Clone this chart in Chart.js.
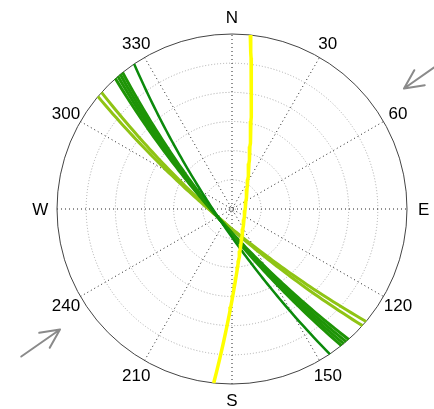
<!DOCTYPE html>
<html>
<head>
<meta charset="utf-8">
<script src="https://cdn.jsdelivr.net/npm/chart.js@4"></script>
<style>
body { margin: 0; background: #fff; }
#wrap { width: 434px; height: 409px; }
</style>
</head>
<body>
<div id="wrap"><canvas id="stereoChart"></canvas></div>
<script>
// planes: strike (right-hand rule) and dip, in degrees
const planeSets = ['set 1', 'set 2', 'set 2', 'set 2', 'set 2', 'set 3', 'set 3', 'set 4'];
const strikes = [146, 141.3, 140.3, 139.3, 138.2, 131.8, 130, 6];
const dips = [79.5, 79.5, 79.5, 79.5, 79.5, 80, 80, 81.5];

const azimuthLabels = ['N', '30', '60', 'E', '120', '150', 'S', '210', '240', 'W', '300', '330'];
const ringValues = [0.02, 1 / 6, 2 / 6, 3 / 6, 4 / 6, 5 / 6];
const arrowAzimuths = [55, 235];

const setColors = { 'set 1': '#0b8a0b', 'set 2': '#1e9406', 'set 3': '#8fc414', 'set 4': '#ffff00' };
const setWidths = { 'set 1': 2.5, 'set 2': 3, 'set 3': 3, 'set 4': 3.5 };

const rad = Math.PI / 180;

// equal-angle projection of a plane (lower hemisphere)
function greatCircle(strike, dip) {
    const s = strike * rad, d = dip * rad;
    const pts = [];
    for (let t = 0; t <= 180; t += 2) {
        const a = t * rad;
        const n = Math.cos(a) * Math.cos(s) + Math.sin(a) * Math.cos(d) * Math.cos(s + Math.PI / 2);
        const e = Math.cos(a) * Math.sin(s) + Math.sin(a) * Math.cos(d) * Math.sin(s + Math.PI / 2);
        const down = Math.sin(a) * Math.sin(d);
        const plunge = Math.asin(Math.min(1, down));
        const trend = Math.atan2(e, n);
        const r = Math.tan((Math.PI / 2 - plunge) / 2);
        pts.push({ x: r * Math.sin(trend), y: r * Math.cos(trend) });
    }
    return pts;
}

const datasets = strikes.map(function(s, i) {
    const set = planeSets[i];
    return {
        label: set,
        data: greatCircle(s, dips[i]),
        showLine: true,
        borderColor: setColors[set],
        borderWidth: setWidths[set],
        pointRadius: 0,
        tension: 0,
        clip: false,
        order: set === 'set 4' ? 0 : 1
    };
});

const polarGrid = {
    id: 'polarGrid',
    beforeDatasetsDraw(chart) {
        const ctx = chart.ctx;
        const xs = chart.scales.x, ys = chart.scales.y;
        const cx = xs.getPixelForValue(0), cy = ys.getPixelForValue(0);
        const R = xs.getPixelForValue(1) - cx;
        ctx.save();
        // rings
        ctx.strokeStyle = '#a8a8a8';
        ctx.lineWidth = 1;
        ctx.setLineDash([1, 2]);
        ringValues.forEach(function(v) {
            ctx.beginPath();
            ctx.arc(cx, cy, v * R, 0, Math.PI * 2);
            ctx.stroke();
        });
        // spokes
        ctx.strokeStyle = '#222';
        ctx.setLineDash([1, 3]);
        for (let a = 0; a < 180; a += 30) {
            const dx = Math.sin(a * rad) * R, dy = Math.cos(a * rad) * R;
            ctx.beginPath();
            ctx.moveTo(cx - dx, cy + dy);
            ctx.lineTo(cx + dx, cy - dy);
            ctx.stroke();
        }
        // outer circle
        ctx.setLineDash([]);
        ctx.strokeStyle = '#444';
        ctx.beginPath();
        ctx.arc(cx, cy, R, 0, Math.PI * 2);
        ctx.stroke();
        // labels
        ctx.fillStyle = '#000';
        ctx.font = '17px "Liberation Sans", Arial, sans-serif';
        ctx.textAlign = 'center';
        ctx.textBaseline = 'middle';
        azimuthLabels.forEach(function(txt, i) {
            const a = i * 30 * rad;
            const lr = R * 1.095;
            ctx.fillText(txt, cx + Math.sin(a) * lr, cy - Math.cos(a) * lr + 1);
        });
        ctx.restore();
    },
    afterDatasetsDraw(chart) {
        const ctx = chart.ctx;
        const xs = chart.scales.x, ys = chart.scales.y;
        const cx = xs.getPixelForValue(0), cy = ys.getPixelForValue(0);
        const R = xs.getPixelForValue(1) - cx;
        ctx.save();
        ctx.strokeStyle = '#8a8a8a';
        ctx.lineWidth = 2;
        ctx.lineCap = 'round';
        arrowAzimuths.forEach(function(az) {
            const a = az * rad;
            const ux = Math.sin(a), uy = -Math.cos(a);
            const tipX = cx + ux * R * 1.2, tipY = cy + uy * R * 1.2;
            const tailX = cx + ux * R * 1.47, tailY = cy + uy * R * 1.47;
            ctx.beginPath();
            ctx.moveTo(tailX, tailY);
            ctx.lineTo(tipX, tipY);
            const back = Math.atan2(tailY - tipY, tailX - tipX);
            [-0.45, 0.45].forEach(function(w) {
                ctx.moveTo(tipX, tipY);
                ctx.lineTo(tipX + Math.cos(back + w) * 21, tipY + Math.sin(back + w) * 21);
            });
            ctx.stroke();
        });
        ctx.restore();
    }
};

new Chart(document.getElementById('stereoChart').getContext('2d'), {
    type: 'scatter',
    data: { datasets: datasets },
    options: {
        responsive: true,
        maintainAspectRatio: false,
        animation: false,
        layout: { padding: { left: 57, right: 27, top: 34, bottom: 25 } },
        scales: {
            x: { type: 'linear', min: -1, max: 1, display: false },
            y: { type: 'linear', min: -1, max: 1, display: false }
        },
        plugins: {
            legend: { display: false },
            tooltip: { enabled: false }
        }
    },
    plugins: [polarGrid]
});
</script>
</body>
</html>
